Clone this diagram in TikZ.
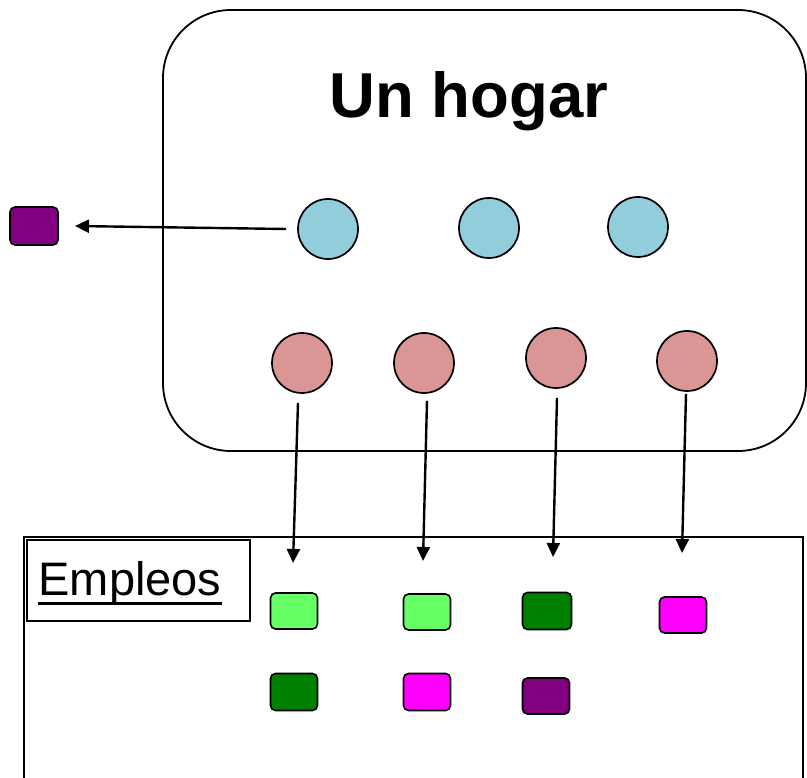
\documentclass[tikz,border=0pt]{standalone}
\usepackage{fontspec}
\setmainfont{Liberation Sans}
\usetikzlibrary{arrows.meta}
\definecolor{cblue}{RGB}{146,205,220}
\definecolor{cpink}{RGB}{217,150,148}
\definecolor{lgreen}{RGB}{102,255,102}
\definecolor{dgreen}{RGB}{0,128,0}
\definecolor{cmag}{RGB}{255,0,255}
\definecolor{cpurp}{RGB}{128,0,128}
\tikzset{
  member/.style={circle, draw=black, line width=1.7pt, minimum size=60pt, inner sep=0pt},
  job/.style={rounded corners=5pt, draw=black, line width=1.6pt, minimum width=47pt, minimum height=36pt, inner sep=0pt},
  link/.style={line width=2.4pt, -{Triangle[length=14pt,width=13pt]}},
}
\begin{document}
\begin{tikzpicture}[x=1pt,y=-1pt]
\useasboundingbox (0,0) rectangle (807,778);
% household box
\draw[line width=1.8pt, rounded corners=68pt] (163,10) rectangle (806,451);
\node[font=\bfseries\fontsize{63.5}{76}\selectfont, anchor=base, inner sep=0pt] (title) at (469,118) {Un hogar};
% jobs box
\draw[line width=1.8pt] (24,790) -- (24,537) -- (803,537) -- (803,790);
\node[draw, line width=1.5pt, minimum width=223pt, minimum height=81pt, anchor=north west, inner sep=0pt] (emp) at (26,539) {};
\node[font=\fontsize{47}{56}\selectfont, anchor=base, inner sep=0pt] (emptxt) at (130,595) {Empleos};
\draw[line width=3pt] ([yshift=-8pt]emptxt.base west) -- ([yshift=-8pt]emptxt.base east);
% members
\node[member, fill=cblue] (b1) at (328,229) {};
\node[member, fill=cblue] (b2) at (489,228) {};
\node[member, fill=cblue] (b3) at (638,227) {};
\node[member, fill=cpink] (p1) at (302,363) {};
\node[member, fill=cpink] (p2) at (424,363) {};
\node[member, fill=cpink] (p3) at (556,358) {};
\node[member, fill=cpink] (p4) at (687,361) {};
% outside job
\node[job, fill=cpurp, minimum width=48pt, minimum height=38pt] (out) at (34,226) {};
% jobs
\node[job, fill=lgreen] (j1) at (294,611) {};
\node[job, fill=lgreen] (j2) at (427,612) {};
\node[job, fill=dgreen, minimum width=49pt, minimum height=37pt] (j3) at (547,611) {};
\node[job, fill=cmag] (j4) at (683,615) {};
\node[job, fill=dgreen, minimum height=37pt] (j5) at (294,692) {};
\node[job, fill=cmag, minimum height=37pt] (j6) at (427,692) {};
\node[job, fill=cpurp] (j7) at (546,696) {};
% arrow ends
\coordinate (e0) at (75,226);
\coordinate (e1) at (293,563);
\coordinate (e2) at (423,561);
\coordinate (e3) at (553,557);
\coordinate (e4) at (682,553);
\draw[link] ([xshift=-11pt]b1.west) -- (e0);
\draw[link] ([yshift=-9pt,xshift=-4pt]p1.south) -- (e1);
\draw[link] ([yshift=-7pt,xshift=3pt]p2.south) -- (e2);
\draw[link] ([yshift=-9pt,xshift=1pt]p3.south) -- (e3);
\draw[link] ([yshift=-2pt,xshift=-1pt]p4.south) -- (e4);
\end{tikzpicture}
\end{document}
